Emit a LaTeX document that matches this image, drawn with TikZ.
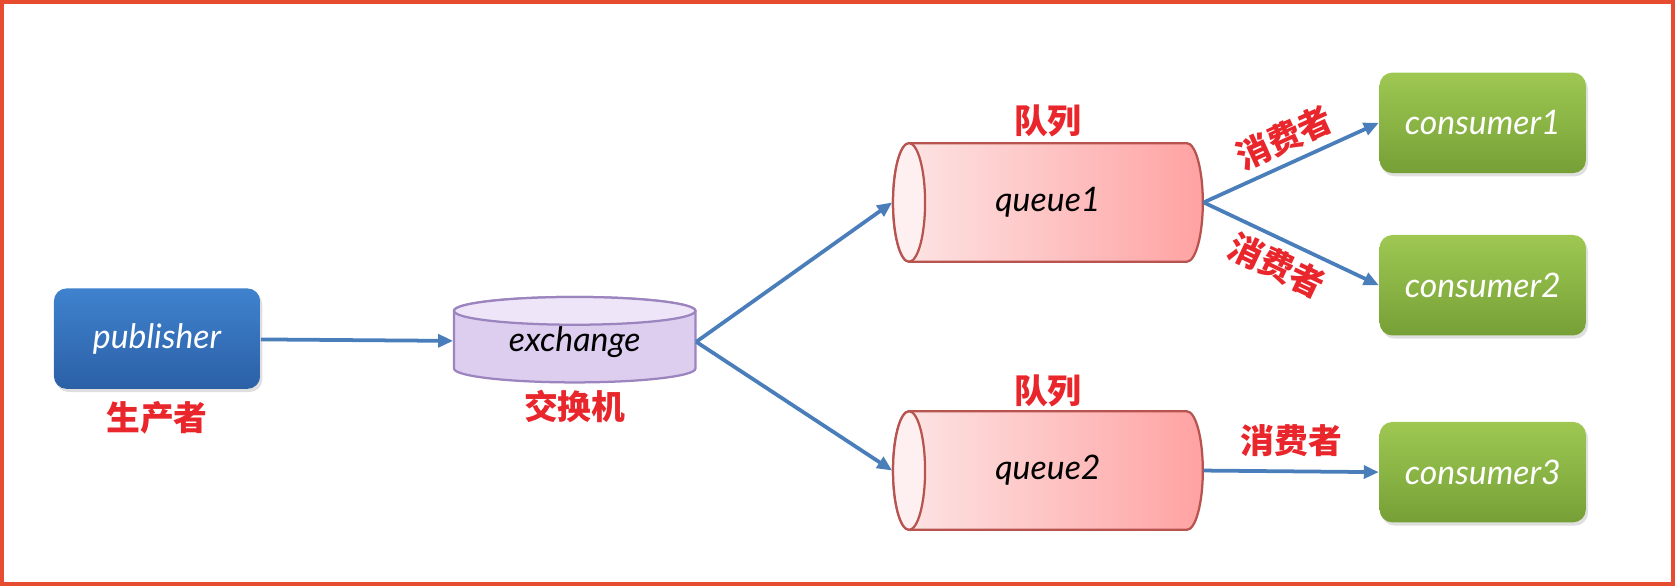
\documentclass[tikz,border=0pt]{standalone}
\usepackage{fontspec}
\setmainfont{Lato}
\newfontfamily\cjk{Noto Sans CJK SC}
\usetikzlibrary{arrows.meta}
\usetikzlibrary{positioning}
\usetikzlibrary{shadows}
\definecolor{frame}{HTML}{E84C30}
\definecolor{flow}{HTML}{4A7EBB}
\definecolor{tag}{HTML}{E8262B}
\definecolor{pubtop}{HTML}{3F82CE}
\definecolor{pubbot}{HTML}{2B60A6}
\definecolor{contop}{HTML}{9EC852}
\definecolor{conbot}{HTML}{76A036}
\definecolor{exbody}{HTML}{DDCEF0}
\definecolor{exend}{HTML}{EEE6F8}
\definecolor{exedge}{HTML}{9C85BF}
\definecolor{qlight}{HTML}{FDE6E6}
\definecolor{qend}{HTML}{FEF0F0}
\definecolor{qdark}{HTML}{FFA2A2}
\definecolor{qedge}{HTML}{B85450}

\begin{document}
\begin{tikzpicture}[x=0.01cm,y=-0.01cm,>={Triangle[length=4pt,width=3.4pt]},
  box/.style={rounded corners=0.12cm,minimum width=1.93cm,minimum height=0.94cm,
    text=white,font=\itshape\fontsize{9}{11}\selectfont,
    drop shadow={opacity=0.25,shadow xshift=0.02cm,shadow yshift=-0.03cm}},
  hand/.style={font=\itshape\fontsize{9}{11}\selectfont},
  tagtext/.style={text=tag,font=\cjk\bfseries\fontsize{9}{11}\selectfont},
  link/.style={->,flow,line width=1pt}]
% frame
\useasboundingbox (0,0) rectangle (1568,549);
\draw[frame,line width=1pt] (2,2) rectangle (1566,547);
% exchange drum
\fill[exbody,draw=exedge,line width=0.6pt] (425,291) -- (425,345)
  arc[start angle=180,end angle=0,x radius=113,y radius=13] -- (651,291)
  arc[start angle=0,end angle=-180,x radius=113,y radius=13] -- cycle;
\draw[exedge,fill=exend,line width=0.6pt] (538,291) ellipse[x radius=113,y radius=13];
% queue tubes
\shade[left color=qlight,right color=qdark,draw=qedge,line width=0.6pt] (851,134) -- (1111,134)
  arc[start angle=-90,end angle=90,x radius=15,y radius=55.5] -- (851,245)
  arc[start angle=90,end angle=270,x radius=15,y radius=55.5] -- cycle;
\draw[qedge,fill=qend,line width=0.6pt] (851,189.5) ellipse[x radius=15,y radius=55.5];
\shade[left color=qlight,right color=qdark,draw=qedge,line width=0.6pt] (851,385) -- (1111,385)
  arc[start angle=-90,end angle=90,x radius=15,y radius=55.5] -- (851,496)
  arc[start angle=90,end angle=270,x radius=15,y radius=55.5] -- cycle;
\draw[qedge,fill=qend,line width=0.6pt] (851,440.5) ellipse[x radius=15,y radius=55.5];
% publisher and exchange
\node[box,top color=pubtop,bottom color=pubbot] (pub) at (147,317) {publisher};
\node[hand,minimum width=2.26cm,minimum height=0.8cm,inner sep=0pt] (ex) at (538,320) {exchange};
\node[tagtext,below=-0.01cm of pub] (pubtag) {生产者};
\node[tagtext,below=-0.08cm of ex] (extag) {交换机};
% queues
\node[hand,minimum width=2.9cm,minimum height=1.11cm,inner sep=0pt] (q1) at (981,189.5) {queue1};
\node[hand,minimum width=2.9cm,minimum height=1.11cm,inner sep=0pt] (q2) at (981,440.5) {queue2};
\node[tagtext,above=-0.07cm of q1] (q1tag) {队列};
\node[tagtext,above=-0.09cm of q2] (q2tag) {队列};
% consumers
\node[box,top color=contop,bottom color=conbot] (c1) at (1388,115) {consumer1};
\node[box,top color=contop,bottom color=conbot] (c2) at (1388,267) {consumer2};
\node[box,top color=contop,bottom color=conbot] (c3) at (1388,442) {consumer3};
% arrows
\draw[link] (pub) -- (ex);
\draw[link] (ex.east) -- (q1.west);
\draw[link] (ex.east) -- (q2.west);
\draw[link] (q1.east) -- node[tagtext,pos=0.52,sloped,above,inner sep=2pt] (t1) {消费者} (c1.west);
\draw[link] (q1.east) -- node[tagtext,pos=0.48,sloped,below,inner sep=2pt] (t2) {消费者} (c2.west);
\draw[link] (q2.east) -- node[tagtext,midway,above] (t3) {消费者} (c3.west);
\end{tikzpicture}
\end{document}
